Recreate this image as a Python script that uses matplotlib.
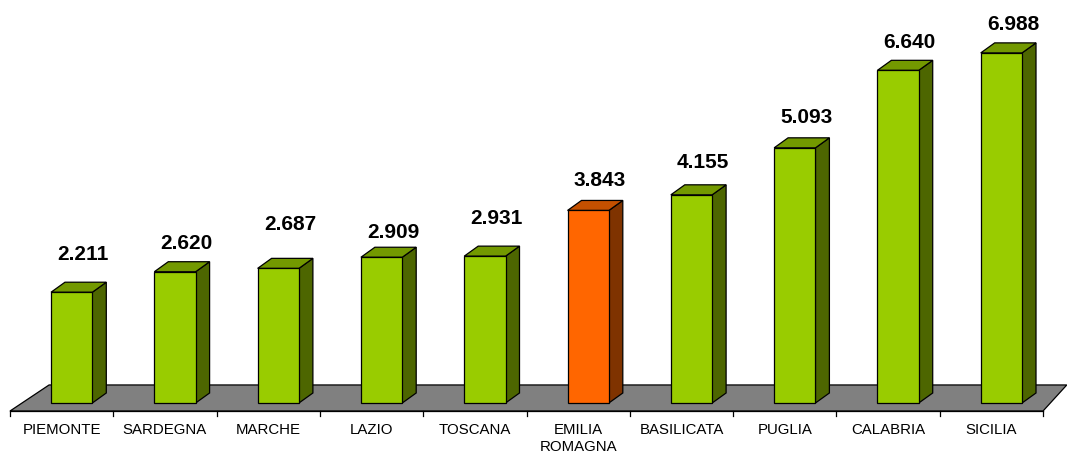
import matplotlib
matplotlib.use('Agg')
import matplotlib.pyplot as plt
from matplotlib.patches import Rectangle, Polygon

regioni = ['PIEMONTE', 'SARDEGNA', 'MARCHE', 'LAZIO', 'TOSCANA',
           'EMILIA\nROMAGNA', 'BASILICATA', 'PUGLIA', 'CALABRIA', 'SICILIA']
valori = [2.211, 2.620, 2.687, 2.909, 2.931, 3.843, 4.155, 5.093, 6.640, 6.988]
evidenzia = 'EMILIA\nROMAGNA'

# distanza etichetta-barra (a mano, come nel grafico originale)
alzo_etichette = [0.76, 0.57, 0.87, 0.50, 0.76, 0.59, 0.64, 0.60, 0.55, 0.56]

verde = ('#99CC00', '#739900', '#4D6600')
arancio = ('#FF6600', '#C45000', '#7F3300')

plt.rcParams['font.family'] = ['Liberation Sans', 'DejaVu Sans']

fig = plt.figure(figsize=(10.67, 4.55), dpi=100)
ax = fig.add_axes([0, 0, 1, 1])
ax.set_xlim(-0.097, 10.232)
ax.set_ylim(-1.038, 8.044)
ax.axis('off')

n = len(regioni)
pav_front, pav_back = -0.16, 0.36
# pavimento grigio
ax.add_patch(Polygon([(0, pav_front), (n, pav_front), (n + 0.23, pav_back), (0.378, pav_back)],
                     closed=True, facecolor='#808080', edgecolor='black', lw=0.9, zorder=1))
ax.plot([0, n], [pav_front, pav_front], color='black', lw=0.9, zorder=2)
for i in range(n + 1):
    ax.plot([i, i], [pav_front, pav_front - 0.1], color='black', lw=0.9, zorder=2)

larg = 0.40
dx, dy = 0.135, 0.2
for i, (reg, v) in enumerate(zip(regioni, valori)):
    front, top, side = arancio if reg == evidenzia else verde
    x0 = i + 0.397
    x1 = x0 + larg
    ax.add_patch(Polygon([(x1, 0), (x1 + dx, dy), (x1 + dx, v + dy), (x1, v)],
                         closed=True, facecolor=side, edgecolor='black', lw=0.9, zorder=3))
    ax.add_patch(Polygon([(x0, v), (x1, v), (x1 + dx, v + dy), (x0 + dx, v + dy)],
                         closed=True, facecolor=top, edgecolor='black', lw=0.9, zorder=3))
    ax.add_patch(Rectangle((x0, 0), larg, v, facecolor=front, edgecolor='black',
                           lw=0.9, zorder=4))
    ax.text(i + 0.71, v + alzo_etichette[i], f'{v:.3f}', ha='center', va='center',
            fontsize=15, fontweight='bold', color='black', zorder=5)
    ax.text(i + 0.5, -0.40, reg, ha='center', va='top', fontsize=10.8,
            color='black', linespacing=1.3)

fig.savefig('out.png', dpi=100, facecolor='white')
